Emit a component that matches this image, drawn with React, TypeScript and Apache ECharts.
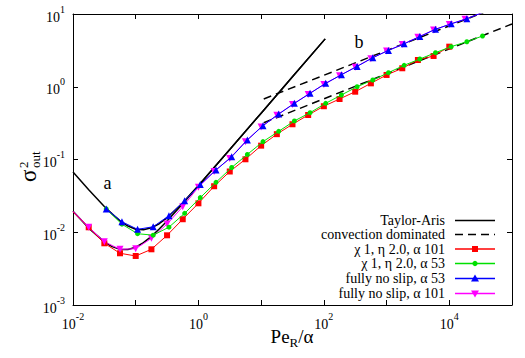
import React, { useEffect, useRef } from 'react';
import * as echarts from 'echarts';

// ---------- data ----------
const taX = [0.01, 0.0178, 0.0316, 0.042, 0.0562, 0.075, 0.1, 0.133, 0.178, 0.237, 0.316, 0.562, 1, 1.78, 3.16, 10, 31.6, 105];
const taUpperY = [0.0674, 0.0384, 0.0226, 0.0179, 0.01435, 0.01218, 0.0110, 0.0108, 0.0115, 0.0131, 0.0158, 0.0255, 0.0440, 0.0775, 0.137, 0.433, 1.37, 4.55];
const taLowerY = [0.0194, 0.0114, 0.00738, 0.00634, 0.00581, 0.00578, 0.00623, 0.00719, 0.00877, 0.0111, 0.0143, 0.0247, 0.0435, 0.0775, 0.137, 0.433, 1.37, 4.55];

const convUpperX = [11, 40000];
const convUpperY = [0.68, 11.0];
const convLowerX = [11, 100000];
const convLowerY = [0.32, 7.3];

// alpha 101 grid
const gridX101 = [0.01, 0.0178, 0.0316, 0.0562, 0.1, 0.178, 0.316, 0.562, 1, 1.78, 3.16, 5.62, 10, 17.8, 31.6, 56.2, 100, 178, 316, 562, 1000, 1780, 3160, 5620, 10000, 17800, 31600];
const redY = [0.019, 0.0117, 0.00705, 0.00514, 0.00472, 0.00583, 0.00908, 0.0151, 0.025, 0.0429, 0.0684, 0.1007, 0.155, 0.223, 0.305, 0.409, 0.54, 0.679, 0.855, 1.114, 1.452, 1.795, 2.333, 2.649, 3.556];
const magentaY = [0.0194, 0.0117, 0.00741, 0.00583, 0.00594, 0.00826, 0.01297, 0.02244, 0.0417, 0.0682, 0.1035, 0.176, 0.279, 0.405, 0.569, 0.785, 1.076, 1.419, 1.854, 2.427, 3.09, 3.80, 4.79, 6.03, 7.19, 8.47, 10.2];

// alpha 53 grid
const gridX53 = [0.0339, 0.0603, 0.107, 0.190, 0.339, 0.603, 1.07, 1.905, 3.39, 6.03, 10.7, 19.05, 33.9, 60.3, 107, 190.5, 339, 603, 1072, 1905, 3388, 6026, 10715, 19055, 33884];
const greenY = [0.0209, 0.0129, 0.00955, 0.00912, 0.01175, 0.0182, 0.0299, 0.0486, 0.0776, 0.1175, 0.176, 0.244, 0.339, 0.440, 0.592, 0.771, 1.0, 1.239, 1.560, 1.972, 2.404, 2.938, 3.556, 4.159, 4.989];
const blueY = [0.0209, 0.01396, 0.01096, 0.0119, 0.0169, 0.0272, 0.0452, 0.0718, 0.109, 0.186, 0.292, 0.422, 0.592, 0.813, 1.114, 1.462, 1.905, 2.512, 3.162, 3.89, 4.90, 6.17, 7.33, 8.61, 10.5];

const seriesNames = [
  'Taylor-Aris',
  'convection dominated',
  'χ 1, η 2.0, α 101',
  'χ 1, η 2.0, α 53',
  'fully no slip, α 53',
  'fully no slip, α 101',
];

const FONT = 'Liberation Serif';
const RED = '#ff0000';
const GREEN = '#00e000';
const BLUE = '#0000ff';
const MAGENTA = '#ff00ff';

function zip(xs: number[], ys: number[], hideFirst = false) {
  return ys.map((y, i) =>
    hideFirst && i === 0 ? { value: [xs[i], y], symbol: 'none' } : [xs[i], y]
  );
}

function powLabel(v: number) {
  const e = Math.round(Math.log10(v));
  return `{b|10}{s|${e}}`;
}

const labelRich = {
  b: { fontSize: 14, fontFamily: FONT, color: '#000', lineHeight: 20, verticalAlign: 'bottom' },
  s: { fontSize: 10, fontFamily: FONT, color: '#000', lineHeight: 8, verticalAlign: 'top' },
};

export default function App() {
  const ref = useRef<HTMLDivElement>(null);
  useEffect(() => {
    const chart = echarts.init(ref.current as HTMLDivElement, null, { renderer: 'svg' });

    const legendRowsY = [220.5, 234.5, 249, 263.5, 278.5, 293.5];
    const legendColors = ['#000', '#000', RED, GREEN, BLUE, MAGENTA];
    const legendGraphics: any[] = [];
    seriesNames.forEach((name, i) => {
      const y = legendRowsY[i];
      legendGraphics.push({
        type: 'text', x: 445, y,
        style: { text: name, fontSize: 14, fontFamily: FONT, fill: '#000', textAlign: 'right', textVerticalAlign: 'middle' },
      });
      legendGraphics.push({
        type: 'line',
        shape: { x1: 455, y1: y, x2: 495, y2: y },
        style: { stroke: legendColors[i], lineWidth: 1.5, lineDash: i === 1 ? [8, 5] : null },
      });
      const c = legendColors[i];
      if (i === 2) legendGraphics.push({ type: 'rect', shape: { x: 472, y: y - 3, width: 6, height: 6 }, style: { fill: c } });
      if (i === 3) legendGraphics.push({ type: 'circle', shape: { cx: 475, cy: y, r: 2.6 }, style: { fill: c } });
      if (i === 4) legendGraphics.push({ type: 'polygon', shape: { points: [[475, y - 4], [479, y + 3], [471, y + 3]] }, style: { fill: c } });
      if (i === 5) legendGraphics.push({ type: 'polygon', shape: { points: [[475, y + 4], [479, y - 3], [471, y - 3]] }, style: { fill: c } });
    });

    const axisCommon = {
      type: 'log' as const,
      logBase: 10,
      axisLine: { show: true, lineStyle: { color: '#000', width: 1 } },
      axisTick: { show: true, inside: true, length: 5, lineStyle: { color: '#000' } },
      minorTick: { show: false },
      splitLine: { show: false },
    };

    const option: any = {
      animation: false,
      backgroundColor: '#fff',
      grid: { left: 73, right: 13, top: 14, bottom: 53, containLabel: false },
      xAxis: [
        {
          ...axisCommon,
          position: 'bottom',
          min: 0.01,
          max: 100000,
          splitNumber: 7,
          axisLabel: {
            margin: 6,
            formatter: (v: number) => {
              const e = Math.round(Math.log10(v));
              return e % 2 === 0 ? powLabel(v) : '';
            },
            rich: labelRich,
            showMinLabel: true,
            showMaxLabel: true,
          },
        },
        {
          ...axisCommon,
          position: 'top',
          min: 0.01,
          max: 100000,
          splitNumber: 7,
          axisLabel: { show: false },
        },
      ],
      yAxis: [
        {
          ...axisCommon,
          position: 'left',
          min: 0.001,
          max: 10,
          splitNumber: 4,
          axisLabel: { margin: 8, formatter: powLabel, rich: labelRich, showMinLabel: true, showMaxLabel: true },
        },
        {
          ...axisCommon,
          position: 'right',
          min: 0.001,
          max: 10,
          splitNumber: 4,
          axisLabel: { show: false },
        },
      ],
      series: [
        {
          name: seriesNames[0], type: 'line', data: zip(taX, taUpperY), symbol: 'none',
          lineStyle: { color: '#000', width: 1.5 }, clip: true, z: 2,
        },
        {
          name: seriesNames[0], type: 'line', data: zip(taX, taLowerY), symbol: 'none',
          lineStyle: { color: '#000', width: 1.5 }, clip: true, z: 2,
        },
        {
          name: seriesNames[1], type: 'line', data: zip(convUpperX, convUpperY), symbol: 'none',
          lineStyle: { color: '#000', width: 1.5, type: [8, 5] }, clip: true, z: 2,
        },
        {
          name: seriesNames[1], type: 'line', data: zip(convLowerX, convLowerY), symbol: 'none',
          lineStyle: { color: '#000', width: 1.5, type: [8, 5] }, clip: true, z: 2,
        },
        {
          name: seriesNames[2], type: 'line', data: zip(gridX101, redY, true),
          symbol: 'rect', symbolSize: 6, showAllSymbol: true,
          itemStyle: { color: RED }, lineStyle: { color: RED, width: 1 }, clip: true, z: 3,
        },
        {
          name: seriesNames[5], type: 'line', data: zip(gridX101, magentaY, true),
          symbol: 'triangle', symbolRotate: 180, symbolSize: 7, showAllSymbol: true,
          itemStyle: { color: MAGENTA }, lineStyle: { color: MAGENTA, width: 1 }, clip: true, z: 3,
        },
        {
          name: seriesNames[3], type: 'line', data: zip(gridX53, greenY),
          symbol: 'circle', symbolSize: 5, showAllSymbol: true,
          itemStyle: { color: GREEN }, lineStyle: { color: GREEN, width: 1 }, clip: true, z: 4,
        },
        {
          name: seriesNames[4], type: 'line', data: zip(gridX53, blueY),
          symbol: 'triangle', symbolSize: 7, showAllSymbol: true,
          itemStyle: { color: BLUE }, lineStyle: { color: BLUE, width: 1 }, clip: true, z: 4,
        },
      ],
      graphic: [
        // y-axis title: sigma^2_out, rotated
        {
          type: 'group', x: 28, y: 182, rotation: Math.PI / 2,
          children: [
            { type: 'text', x: 0, y: 0, style: { text: 'σ', fontSize: 23, fontFamily: FONT, fill: '#000', textAlign: 'left', textVerticalAlign: 'middle' } },
            { type: 'text', x: 14, y: -5, style: { text: '2', fontSize: 13, fontFamily: FONT, fill: '#000', textAlign: 'left', textVerticalAlign: 'middle' } },
            { type: 'text', x: 14, y: 7, style: { text: 'out', fontSize: 13, fontFamily: FONT, fill: '#000', textAlign: 'left', textVerticalAlign: 'middle' } },
          ],
        },
        // x-axis title: Pe_R/alpha
        {
          type: 'text', x: 292, y: 338,
          style: {
            text: '{a|Pe}{r|R}{a|/α}',
            textAlign: 'center', textVerticalAlign: 'middle',
            rich: {
              a: { fontSize: 19, fontFamily: FONT, fill: '#000', lineHeight: 22, verticalAlign: 'top' },
              r: { fontSize: 13, fontFamily: FONT, fill: '#000', lineHeight: 14, verticalAlign: 'bottom' },
            },
          },
        },
        { type: 'text', x: 107.5, y: 183, style: { text: 'a', fontSize: 18, fontFamily: FONT, fill: '#000', textAlign: 'center', textVerticalAlign: 'middle' } },
        { type: 'text', x: 359, y: 42, style: { text: 'b', fontSize: 18, fontFamily: FONT, fill: '#000', textAlign: 'center', textVerticalAlign: 'middle' } },
        ...legendGraphics,
      ],
    };

    chart.setOption(option);
    return () => chart.dispose();
  }, []);
  return <div ref={ref} style={{ position: 'fixed', left: 0, top: 0, width: 525, height: 358 }} />;
}
